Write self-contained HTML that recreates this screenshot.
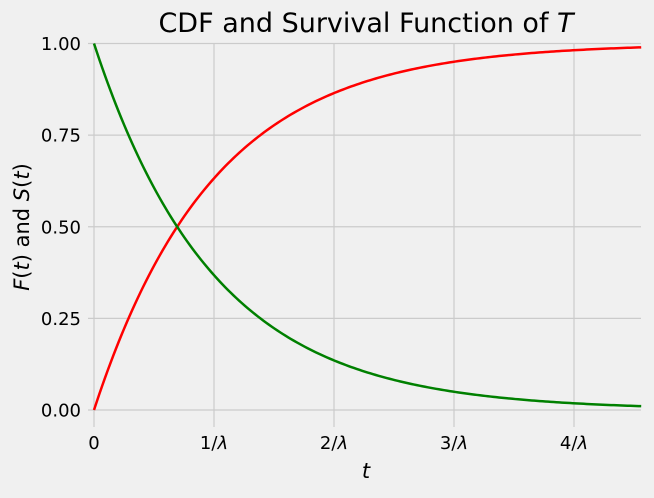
<!DOCTYPE html>
<html><head><meta charset="utf-8"><style>
body{margin:0;background:#f0f0f0;}
svg text{font-family:"DejaVu Sans","Liberation Sans",sans-serif;fill:#000;}
</style></head><body>
<svg width="654" height="493" xmlns="http://www.w3.org/2000/svg">
<rect width="654" height="493" fill="#f0f0f0"/>
<g id="grid"></g>
<g id="curves"></g>
<g id="labels"></g>
<text x="366" y="32" font-size="27" text-anchor="middle">CDF and Survival Function of <tspan font-style="italic">T</tspan></text>
<text x="366" y="478" font-size="21" font-style="italic" text-anchor="middle">t</text>
<text transform="translate(29,227) rotate(-90)" font-size="21" text-anchor="middle"><tspan font-style="italic">F</tspan>(<tspan font-style="italic">t</tspan>) and <tspan font-style="italic">S</tspan>(<tspan font-style="italic">t</tspan>)</text>
</svg>
<script>
const xTicks=[0,1,2,3,4];
const xTickLabels=["0","1/","2/","3/","4/"];
const yTicks=[0,0.25,0.5,0.75,1.0];
const yTickLabels=["0.00","0.25","0.50","0.75","1.00"];
const lambda=[1];
const tMax=[4.56];
const NS="http://www.w3.org/2000/svg";
const X=v=>94+v*120, Y=v=>410-v*366.5;
function mk(tag,attrs,parent){const e=document.createElementNS(NS,tag);for(const k in attrs)e.setAttribute(k,attrs[k]);document.getElementById(parent).appendChild(e);return e;}
xTicks.forEach((t,i)=>{
  const l=mk('line',{x1:X(t),x2:X(t),y1:43.5,y2:427,stroke:'#cbcbcb','stroke-width':1.2},'grid');
  
  
  const tx=mk('text',{x:X(t),y:449,'font-size':18,'text-anchor':'middle'},'labels');
  tx.textContent=xTickLabels[i];
  if(i>0){const sp=document.createElementNS(NS,'tspan');sp.setAttribute('font-style','italic');sp.textContent='λ';tx.appendChild(sp);}
  
  
});
yTicks.forEach((v,i)=>{
  const l=mk('line',{x1:88,x2:641,y1:Y(v),y2:Y(v),stroke:'#cbcbcb','stroke-width':1.2},'grid');
  
  
  const tx=mk('text',{x:81,y:Y(v)+6.5,'font-size':18,'text-anchor':'end'},'labels');
  tx.textContent=yTickLabels[i];
  
  
});
let pf=[],ps=[];
for(let k=0;k<=200;k++){const t=tMax[0]*k/200;const s=Math.exp(-lambda[0]*t);pf.push(X(t).toFixed(2)+','+Y(1-s).toFixed(2));ps.push(X(t).toFixed(2)+','+Y(s).toFixed(2));}
const c1=mk('polyline',{points:pf.join(' '),fill:'none',stroke:'#ff0000','stroke-width':2.5},'curves');


const c2=mk('polyline',{points:ps.join(' '),fill:'none',stroke:'#008000','stroke-width':2.5},'curves');


</script>
</body></html>
